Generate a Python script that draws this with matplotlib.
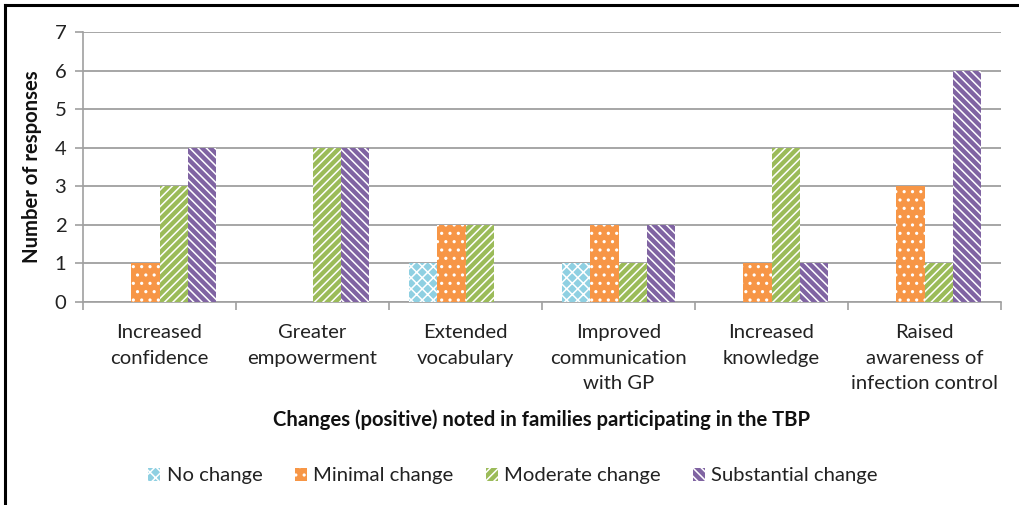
import matplotlib
matplotlib.use("Agg")
import matplotlib.pyplot as plt
import numpy as np
from matplotlib.patches import Patch
from matplotlib.lines import Line2D

categories = ["Increased\nconfidence", "Greater\nempowerment", "Extended\nvocabulary",
              "Improved\ncommunication\nwith GP", "Increased\nknowledge",
              "Raised\nawareness of\ninfection control"]
series_names = ["No change", "Minimal change", "Moderate change", "Substantial change"]
no_change = [0, 0, 1, 1, 0, 0]
minimal_change = [1, 0, 2, 2, 1, 3]
moderate_change = [3, 4, 2, 1, 4, 1]
substantial_change = [4, 4, 0, 2, 1, 6]
y_ticks = [0, 1, 2, 3, 4, 5, 6, 7]

colors = ["#8fd0e2", "#f79646", "#9bbb59", "#8064a2"]
hatches = ["xxx", "..", "////", "\\\\\\\\"]

plt.rcParams['font.family'] = ['Lato', 'DejaVu Sans']
plt.rcParams['hatch.linewidth'] = 1.1

FS = 14.6
fig = plt.figure(figsize=(10.2, 5.05), dpi=100)
ax = fig.add_axes([0.0814, 0.402, 0.9, 0.5346])

data = [no_change, minimal_change, moderate_change, substantial_change]
x = np.arange(len(categories))
w = 0.186
for i, vals in enumerate(data):
    ax.bar(x + (i - 1.5) * w, vals, width=w, color=colors[i], edgecolor="white",
           hatch=hatches[i], linewidth=0, zorder=3)

ax.set_xlim(-0.5, len(categories) - 0.5)
ax.set_ylim(0, 7)
ax.set_yticks(y_ticks)
ax.set_xticks(x)
ax.set_xticklabels(categories, fontsize=FS, color="#222222", linespacing=1.6)
ax.set_xticks(np.arange(len(categories) + 1) - 0.5, minor=True)
ax.tick_params(axis="x", which="major", length=0, pad=16)
ax.tick_params(axis="x", which="minor", length=6, color="#a0a0a0", width=1.2)
ax.tick_params(axis="y", length=6, color="#a0a0a0", width=1.2, labelsize=FS,
               labelcolor="#222222", pad=6)
ax.grid(axis="y", color="#a6a6a6", linewidth=1.4, zorder=0)
for s in ["top", "right"]:
    ax.spines[s].set_visible(False)
ax.spines["left"].set_color("#a0a0a0")
ax.spines["bottom"].set_color("#a0a0a0")
ax.spines["left"].set_linewidth(1.2)
ax.spines["bottom"].set_linewidth(1.2)
ax.set_axisbelow(True)

ax.set_ylabel("Number of responses", fontsize=FS, fontweight="bold", color="#111111", labelpad=9)
fig.text(0.531, 1 - 420 / 505, "Changes (positive) noted in families participating in the TBP",
         ha="center", va="center", fontsize=FS, fontweight="bold", color="#111111")

handles = [Patch(facecolor=colors[i], edgecolor="white", hatch=hatches[i], linewidth=0,
                 label=series_names[i]) for i in range(4)]
fig.legend(handles=handles, loc="center", bbox_to_anchor=(0.503, 1 - 476 / 505), ncol=4,
           frameon=False, fontsize=FS, handlelength=0.6, handleheight=0.6,
           handletextpad=0.3, columnspacing=1.6, labelcolor="#222222")

fig.add_artist(Line2D([5 / 1020, 5 / 1020], [0, 1 - 5 / 505], color="black", linewidth=2.2,
                      transform=fig.transFigure))
fig.add_artist(Line2D([5 / 1020, 1], [1 - 5 / 505, 1 - 5 / 505], color="black", linewidth=2.2,
                      transform=fig.transFigure))

fig.savefig("out.png", dpi=100)
